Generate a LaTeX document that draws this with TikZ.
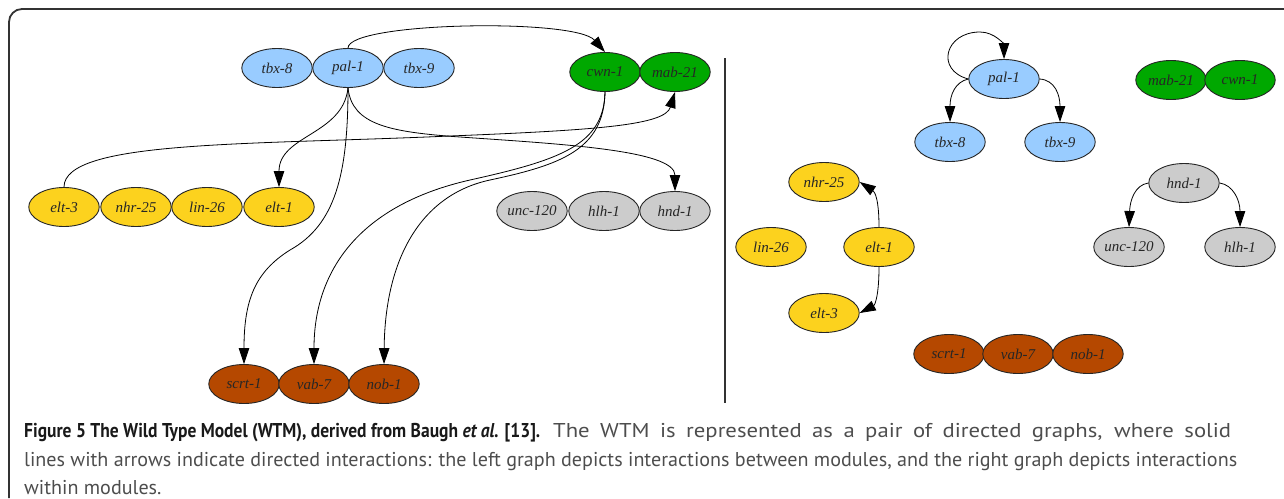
\documentclass[tikz,border=0pt]{standalone}
\usepackage{fontspec}
\usepackage{graphicx}
\setmainfont{Liberation Serif}
\newfontfamily\capfont{PT Sans}
\usetikzlibrary{arrows.meta,shapes.geometric}
\definecolor{nblue}{HTML}{99CCFF}
\definecolor{ngreen}{HTML}{00A800}
\definecolor{nyellow}{HTML}{FCD21E}
\definecolor{ngrey}{HTML}{CCCCCC}
\definecolor{nbrown}{HTML}{B54800}
\definecolor{framecol}{HTML}{333333}
\definecolor{captxt}{HTML}{4D4D4D}
\newcommand\capsecond{lines with arrows indicate directed interactions: the left graph depicts interactions between modules, and the right graph depicts interactions}
\newlength\capwB
\AtBeginDocument{\settowidth\capwB{\capfont\fontsize{20}{24}\selectfont\capsecond}}
\begin{document}
\begin{tikzpicture}[x=1pt,y=-1pt,
  gene/.style={ellipse,draw=black!85,line width=0.9pt,minimum width=70.5pt,minimum height=39pt,inner sep=0pt,
    font=\fontsize{15}{17}\selectfont\itshape,text=black!85},
  gblue/.style={gene,fill=nblue},
  ggreen/.style={gene,fill=ngreen},
  gyellow/.style={gene,fill=nyellow},
  ggrey/.style={gene,fill=ngrey},
  gbrown/.style={gene,fill=nbrown},
  link/.style={line width=0.8pt,draw=black,-{Triangle[length=16pt,width=10.5pt]}},
  rule/.style={draw=framecol,line width=1.8pt},
  capline/.style={anchor=base west,inner sep=0pt,font=\capfont\fontsize{20}{24}\selectfont,text=captxt}
]
\useasboundingbox (0,0) rectangle (1284,498);
\ifdim\capwB<100pt \global\capwB=1300pt \fi
\pgfmathsetmacro\capsx{1213/\capwB}
\pgfmathsetmacro\capsxR{1.13*\capsx}
\pgfmathsetlengthmacro\capwR{(678/1213/1.13)*\capwB}

% frame and divider
\draw[rule,rounded corners=13pt] (9,498) -- (9,9) -- (1284,9);
\draw[rule] (725,58) -- (725,403);

% ---------- left graph ----------
\node[gblue] (tbx8) at (277,68) {tbx-8};
\node[gblue] (pal1) at (348,68) {pal-1};
\node[gblue] (tbx9) at (419,68) {tbx-9};
\node[ggreen] (cwn1) at (605,72) {cwn-1};
\node[ggreen] (mab21) at (675,72) {mab-21};
\node[gyellow] (elt3) at (64,207) {elt-3};
\node[gyellow] (nhr25) at (136,207) {nhr-25};
\node[gyellow] (lin26) at (207,207) {lin-26};
\node[gyellow] (elt1) at (279,207) {elt-1};
\node[ggrey] (unc120) at (532,211) {unc-120};
\node[ggrey] (hlh1) at (604,211) {hlh-1};
\node[ggrey] (hnd1) at (675,211) {hnd-1};
\node[gbrown] (scrt1) at (244,384) {scrt-1};
\node[gbrown] (vab7) at (314,384) {vab-7};
\node[gbrown] (nob1) at (384,384) {nob-1};

\draw[link] (pal1.north) .. controls (348,22) and (575,18) .. (cwn1.north);
\draw[link] (pal1.south) .. controls (343,135) and (279,135) .. (elt1.north);
\draw[link] (pal1.south) .. controls (348,175) and (335,225) .. (290,250) .. controls (255,272) and (244,300) .. (scrt1.north);
\draw[link] (pal1.south) .. controls (352,125) and (390,132) .. (460,137) .. controls (560,144) and (675,150) .. (hnd1.north);
\draw[link] (elt3.north) .. controls (64,140) and (250,145) .. (450,136) .. controls (600,130) and (665,125) .. (mab21.south);
\draw[link] (cwn1.south) .. controls (604,145) and (560,160) .. (470,180) .. controls (360,205) and (314,270) .. (vab7.north);
\draw[link] (cwn1.south) .. controls (604,150) and (560,165) .. (490,180) .. controls (420,195) and (385,260) .. (nob1.north);

% ---------- right graph ----------
\node[gblue] (rpal1) at (1004,79) {pal-1};
\node[gblue] (rtbx8) at (950,142) {tbx-8};
\node[gblue] (rtbx9) at (1060,142) {tbx-9};
\node[ggreen] (rmab21) at (1171,80) {mab-21};
\node[ggreen] (rcwn1) at (1240,80) {cwn-1};
\node[gyellow] (rnhr25) at (824,182) {nhr-25};
\node[gyellow] (rlin26) at (771,247) {lin-26};
\node[gyellow] (relt1) at (879,247) {elt-1};
\node[gyellow] (relt3) at (824,313) {elt-3};
\node[ggrey] (rhnd1) at (1184,183) {hnd-1};
\node[ggrey] (runc120) at (1129,247) {unc-120};
\node[ggrey] (rhlh1) at (1240,247) {hlh-1};
\node[gbrown] (rscrt1) at (949,354) {scrt-1};
\node[gbrown] (rvab7) at (1018,354) {vab-7};
\node[gbrown] (rnob1) at (1088,354) {nob-1};

\draw[link] (rpal1.west) .. controls (935,70) and (945,32) .. (980,32) .. controls (995,32) and (1004,45) .. (rpal1.north);
\draw[link] (rpal1.west) .. controls (955,82) and (950,95) .. (rtbx8.north);
\draw[link] (rpal1.east) .. controls (1055,80) and (1060,95) .. (rtbx9.north);
\draw[link] (relt1.north) .. controls (879,200) and (875,192) .. (rnhr25.east);
\draw[link] (relt1.south) .. controls (879,295) and (875,305) .. (relt3.east);
\draw[link] (rhnd1.west) .. controls (1135,185) and (1130,200) .. (runc120.north);
\draw[link] (rhnd1.east) .. controls (1233,185) and (1240,200) .. (rhlh1.north);

% ---------- caption ----------
\node[capline] (cap1a) at (24,437.5) {\resizebox{516pt}{\height}{\bfseries\color{black!90}Figure 5 The Wild Type Model (WTM), derived from Baugh \textit{et al.} [13].}};
\node[capline] (cap1b) at (553,437.5) {\scalebox{\capsxR}[1]{\makebox[\capwR][s]{The WTM is represented as a pair of directed graphs, where solid}}};
\node[capline] (cap2) at (24,466) {\scalebox{\capsx}[1]{\capsecond}};
\node[capline] (cap3) at (24,494.5) {\scalebox{\capsx}[1]{within modules.}};
\end{tikzpicture}
\end{document}
